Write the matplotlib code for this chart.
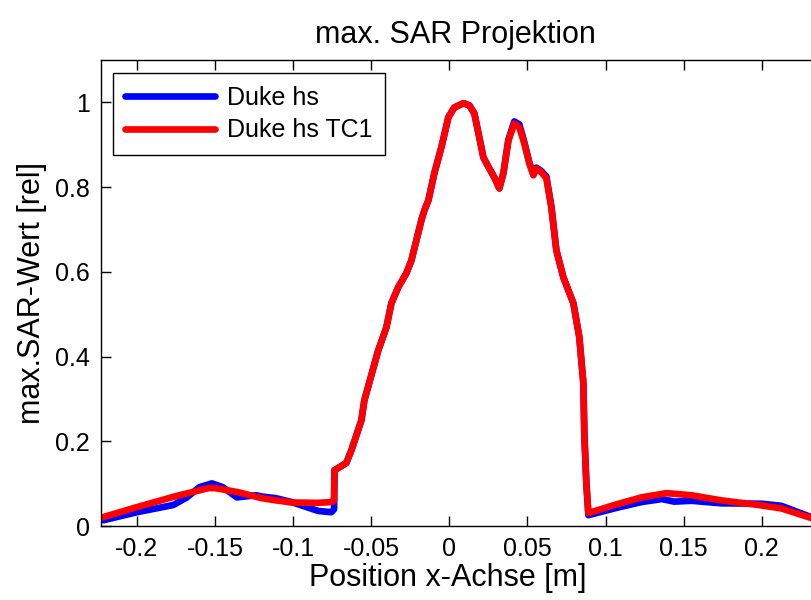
import numpy as np
import matplotlib
matplotlib.use('Agg')
import matplotlib.pyplot as plt

plt.rcParams['font.family'] = ['Liberation Sans', 'DejaVu Sans']

# Duke hs (blue)
x_blue = [-0.2215, -0.2, -0.1767, -0.168, -0.16, -0.152, -0.145, -0.136, -0.1236,
          -0.12, -0.111, -0.101, -0.084, -0.0755, -0.0738, -0.0735,
          -0.066, -0.0627, -0.0563, -0.0544, -0.0455, -0.0403, -0.0371, -0.0327,
          -0.0275, -0.0243, -0.0179, -0.016, -0.0134, -0.0096, -0.0051, -0.0006,
          0.0032, 0.009, 0.0128, 0.016, 0.0192, 0.0218, 0.0256, 0.0288, 0.032,
          0.0346, 0.0378, 0.0416, 0.0448, 0.048, 0.0512, 0.0538, 0.0557, 0.0589,
          0.0621, 0.0653, 0.0685, 0.073, 0.0794, 0.0832, 0.0858, 0.0864, 0.0877,
          0.089, 0.1056, 0.123, 0.136, 0.144, 0.155, 0.174, 0.2, 0.2125, 0.232]
y_blue = [0.014, 0.033, 0.050, 0.068, 0.092, 0.101, 0.092, 0.068, 0.073,
          0.070, 0.066, 0.057, 0.036, 0.033, 0.04, 0.132,
          0.149, 0.179, 0.25, 0.297, 0.415, 0.469, 0.526, 0.564,
          0.597, 0.627, 0.722, 0.745, 0.769, 0.833, 0.894, 0.965,
          0.988, 0.998, 0.993, 0.974, 0.917, 0.870, 0.844, 0.823, 0.797,
          0.833, 0.912, 0.955, 0.948, 0.906, 0.858, 0.830, 0.846, 0.838,
          0.825, 0.755, 0.651, 0.587, 0.526, 0.446, 0.337, 0.219, 0.101,
          0.026, 0.042, 0.057, 0.064, 0.058, 0.060, 0.054, 0.053, 0.048, 0.021]

# Duke hs TC1 (red)
x_red = [-0.222, -0.2, -0.175, -0.154, -0.15, -0.135, -0.12, -0.111, -0.101,
         -0.084, -0.0755, -0.0738, -0.0735,
         -0.066, -0.0627, -0.0563, -0.0544, -0.0455, -0.0403, -0.0371, -0.0327,
         -0.0275, -0.0243, -0.0179, -0.016, -0.0134, -0.0096, -0.0051, -0.0006,
         0.0032, 0.009, 0.0128, 0.016, 0.0192, 0.0218, 0.0256, 0.0288, 0.032,
         0.0346, 0.0378, 0.0416, 0.0448, 0.048, 0.0512, 0.0538, 0.0557, 0.0589,
         0.0621, 0.0653, 0.0685, 0.073, 0.0794, 0.0832, 0.0858, 0.0864, 0.0877,
         0.089, 0.1056, 0.123, 0.139, 0.155, 0.174, 0.198, 0.2125, 0.232]
y_red = [0.021, 0.045, 0.071, 0.090, 0.090, 0.080, 0.066, 0.061, 0.056,
         0.055, 0.057, 0.060, 0.132,
         0.149, 0.179, 0.25, 0.297, 0.415, 0.469, 0.526, 0.564,
         0.597, 0.627, 0.722, 0.745, 0.769, 0.833, 0.894, 0.965,
         0.988, 0.998, 0.993, 0.974, 0.917, 0.870, 0.844, 0.823, 0.797,
         0.833, 0.910, 0.950, 0.941, 0.903, 0.856, 0.828, 0.844, 0.835,
         0.821, 0.752, 0.651, 0.587, 0.526, 0.446, 0.337, 0.219, 0.101,
         0.031, 0.050, 0.068, 0.078, 0.073, 0.061, 0.050, 0.042, 0.019]

x_ticks = [-0.2, -0.15, -0.1, -0.05, 0, 0.05, 0.1, 0.15, 0.2]
x_ticklabels = ['-0.2', '-0.15', '-0.1', '-0.05', '0', '0.05', '0.1', '0.15', '0.2']
y_ticks = [0, 0.2, 0.4, 0.6, 0.8, 1]
y_ticklabels = ['0', '0.2', '0.4', '0.6', '0.8', '1']

fig = plt.figure(figsize=(8.11, 6.0), dpi=100)
ax = fig.add_axes([0.1245, 0.123, 0.9015, 0.777])

ax.plot(x_blue, y_blue, color='#0000ff', lw=4.8, label='Duke hs',
        solid_joinstyle='round', solid_capstyle='round')
ax.plot(x_red, y_red, color='#ff0000', lw=4.8, label='Duke hs TC1',
        solid_joinstyle='round', solid_capstyle='round')

ax.set_xlim(-0.223, 0.245)
ax.set_ylim(0, 1.1)
ax.set_xticks(x_ticks)
ax.set_xticklabels(x_ticklabels)
ax.set_yticks(y_ticks)
ax.set_yticklabels(y_ticklabels)
ax.tick_params(direction='in', length=7, width=1, top=True, right=True,
               labelsize=18, pad=8)
for s in ax.spines.values():
    s.set_linewidth(1)

ax.set_title('max. SAR Projektion', fontsize=22, pad=12, x=0.485)
ax.set_xlabel('Position x-Achse [m]', fontsize=22, labelpad=1, x=0.475)
ax.set_ylabel('max.SAR-Wert [rel]', fontsize=22, labelpad=6)

leg = ax.legend(loc='upper left', fontsize=18, fancybox=False, framealpha=1,
                edgecolor='black', handlelength=3.6, handletextpad=0.45,
                borderpad=0.5, labelspacing=0.35, borderaxespad=0,
                bbox_to_anchor=(0.0164, 0.972))
leg.get_frame().set_linewidth(1)

fig.savefig('out.png', dpi=100)
